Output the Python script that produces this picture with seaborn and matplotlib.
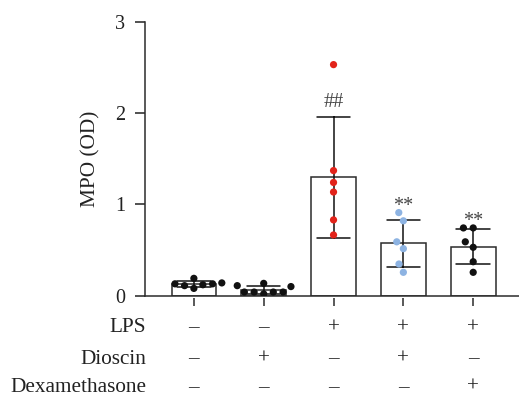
import matplotlib
matplotlib.use("Agg")
import matplotlib.pyplot as plt
import matplotlib.transforms as mtransforms
import numpy as np
import pandas as pd
import seaborn as sns

# MPO optical density per animal, one list per treatment group
groups = ["Control", "Dioscin", "LPS", "LPS+Dioscin", "LPS+Dexamethasone"]
control = [0.11, 0.19, 0.13, 0.12, 0.13, 0.08, 0.14]
dioscin = [0.04, 0.11, 0.04, 0.04, 0.04, 0.10, 0.135, 0.02]
lps = [2.53, 1.37, 1.24, 1.135, 0.83, 0.665]
lps_dioscin = [0.82, 0.91, 0.59, 0.515, 0.347, 0.256]
lps_dex = [0.742, 0.742, 0.59, 0.53, 0.372, 0.256]

# treatment table shown under the axis
row_labels = ["LPS", "Dioscin", "Dexamethasone"]
lps_signs = ["–", "–", "+", "+", "+"]
dioscin_signs = ["–", "+", "–", "+", "–"]
dex_signs = ["–", "–", "–", "–", "+"]

# significance marks above bars: (group, text, y)
sig_groups = ["LPS", "LPS+Dioscin", "LPS+Dexamethasone"]
sig_text = ["##", "**", "**"]
sig_y = [2.12, 0.975, 0.81]

point_colors = {"Control": "#111111", "Dioscin": "#111111", "LPS": "#e2231a",
                "LPS+Dioscin": "#8db3e2", "LPS+Dexamethasone": "#111111"}

values = [control, dioscin, lps, lps_dioscin, lps_dex]
df = pd.DataFrame({
    "group": np.repeat(groups, [len(v) for v in values]),
    "mpo": np.concatenate(values),
})

sns.set_style("ticks")
plt.rcParams["font.family"] = ["Liberation Serif", "DejaVu Serif"]
plt.rcParams["axes.linewidth"] = 1.1

W, H = 519, 397
fig = plt.figure(figsize=(W / 100, H / 100), dpi=100)
ax_left, ax_right = 145 / W, 1.0
ax_bottom, ax_top = 1 - 295.7 / H, 1 - 21.7 / H
ax = fig.add_axes([ax_left, ax_bottom, ax_right - ax_left, ax_top - ax_bottom])

sns.barplot(data=df, x="group", y="mpo", order=groups, errorbar="sd",
            width=0.64, color="white", edgecolor="#2b2b2b", linewidth=1.1,
            capsize=0.48, err_kws={"color": "#111111", "linewidth": 1.1},
            ax=ax)
# an invisible marker rim adds a little room between neighbouring dots
sns.swarmplot(data=df, x="group", y="mpo", order=groups, hue="group",
              palette=point_colors, size=5.2, linewidth=1.5,
              edgecolor="none", legend=False, warn_thresh=1.0, ax=ax)

ax.set_xlim(-0.70, 4.656)
ax.set_ylim(0, 3)
ax.set_yticks([0, 1, 2, 3])
ax.set_yticklabels(["0", "1", "2", "3"])
ax.tick_params(axis="y", direction="out", length=7.3, width=1.1,
               pad=7, labelsize=14.5, colors="#222222")
ax.set_xticks([])
ax.set_xlabel("")
ax.set_ylabel("MPO (OD)", fontsize=15.3, color="#222222")
ax.yaxis.set_label_coords(-0.119, 0.5)
for s in ("top", "right"):
    ax.spines[s].set_visible(False)
for s in ("left", "bottom"):
    ax.spines[s].set_color("#2b2b2b")

# x tick marks set slightly below the baseline
sec = ax.secondary_xaxis(-0.010)
sec.set_xticks(range(len(groups)))
sec.set_xticklabels([""] * len(groups))
sec.spines["bottom"].set_visible(False)
sec.tick_params(axis="x", direction="out", length=6, width=1.1,
                colors="#2b2b2b")

# significance annotations
for g, t, y in zip(sig_groups, sig_text, sig_y):
    ax.text(groups.index(g), y, t, ha="center", va="center",
            fontsize=14.5, color="#444444")

# treatment table
trans = mtransforms.blended_transform_factory(ax.transData, fig.transFigure)
row_base = [1 - 332.3 / H, 1 - 363.5 / H, 1 - 392.0 / H]
for label, signs, yb in zip(row_labels, [lps_signs, dioscin_signs, dex_signs],
                            row_base):
    fig.text(146 / W, yb, label, ha="right", va="baseline",
             fontsize=15.3, color="#222222")
    for i, s in enumerate(signs):
        ax.text(i, yb, s, transform=trans, ha="center", va="baseline",
                fontsize=15.3, color="#222222", clip_on=False)

fig.savefig("out.png", dpi=100)
